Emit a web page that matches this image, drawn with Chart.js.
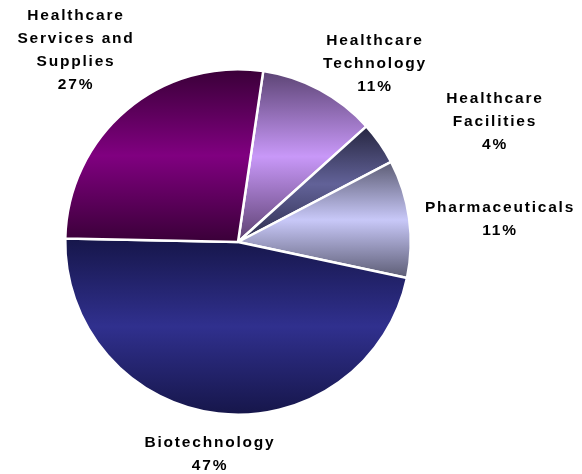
<!DOCTYPE html>
<html>
<head>
<meta charset="utf-8">
<script src="https://cdn.jsdelivr.net/npm/chart.js@4/dist/chart.umd.min.js"></script>
<style>
  html, body { margin: 0; padding: 0; background: #fff; }
  #wrap { width: 582px; height: 474px; }
</style>
</head>
<body>
<div id="wrap"><canvas id="sectorChart"></canvas></div>
<script>
const sectors = [
    ['Healthcare', 'Technology'],
    ['Healthcare', 'Facilities'],
    ['Pharmaceuticals'],
    ['Biotechnology'],
    ['Healthcare', 'Services and', 'Supplies']
];
const shares = [11, 4, 11, 47, 27];
const shareLabels = ['11%', '4%', '11%', '47%', '27%'];

// top / middle / bottom shades of each slice's vertical gradient
const shades = [
    ['#5c4474', '#c898f8', '#5c4070'],
    ['#262640', '#626298', '#2c2c4c'],
    ['#5c5c74', '#c8c8f8', '#5c5c74'],
    ['#16164a', '#30308e', '#16164a'],
    ['#3a0038', '#800080', '#3a0038']
];
// label block centre, relative to the pie centre
const labelOffsets = [
    [136, -178], [256, -120], [261, -23], [-29, 212], [-163, -192]
];

function sliceGradient(ctx, el, cols) {
    const p = el.getProps(['x', 'y', 'startAngle', 'endAngle', 'outerRadius'], true);
    let minY = p.y, maxY = p.y;
    const steps = 60;
    for (let i = 0; i <= steps; i++) {
        const a = p.startAngle + (p.endAngle - p.startAngle) * i / steps;
        const y = p.y + p.outerRadius * Math.sin(a);
        minY = Math.min(minY, y);
        maxY = Math.max(maxY, y);
    }
    const g = ctx.createLinearGradient(0, minY, 0, maxY);
    g.addColorStop(0, cols[0]);
    g.addColorStop(0.5, cols[1]);
    g.addColorStop(1, cols[2]);
    return g;
}

const gradientPlugin = {
    id: 'sliceGradients',
    beforeDatasetsDraw(chart) {
        const meta = chart.getDatasetMeta(0);
        meta.data.forEach((el, i) => {
            el.options.backgroundColor = sliceGradient(chart.ctx, el, shades[i]);
        });
    }
};

const labelPlugin = {
    id: 'sliceLabels',
    afterDatasetsDraw(chart) {
        const ctx = chart.ctx;
        const meta = chart.getDatasetMeta(0);
        const lineH = 23;
        ctx.save();
        ctx.fillStyle = '#000';
        ctx.font = 'bold 15.5px "Liberation Sans", Arial, sans-serif';
        ctx.textAlign = 'center';
        ctx.textBaseline = 'middle';
        ctx.letterSpacing = '1.8px';
        meta.data.forEach((el, i) => {
            const lines = sectors[i].concat([shareLabels[i]]);
            const cx = el.x + labelOffsets[i][0];
            const cy = el.y + labelOffsets[i][1];
            const top = cy - (lines.length - 1) * lineH / 2;
            lines.forEach((t, k) => ctx.fillText(t, cx + 1, top + k * lineH));
        });
        ctx.restore();
    }
};

new Chart(document.getElementById('sectorChart'), {
    type: 'pie',
    data: {
        labels: sectors.map(s => s.join(' ')),
        datasets: [{
            data: shares,
            backgroundColor: shades.map(s => s[1]),
            borderColor: '#ffffff',
            borderWidth: 2.5
        }]
    },
    options: {
        responsive: true,
        maintainAspectRatio: false,
        animation: false,
        rotation: 8.4,
        layout: { padding: { left: 64, right: 170, top: 68, bottom: 58 } },
        plugins: {
            legend: { display: false },
            tooltip: { enabled: false }
        }
    },
    plugins: [gradientPlugin, labelPlugin]
});
</script>
</body>
</html>
